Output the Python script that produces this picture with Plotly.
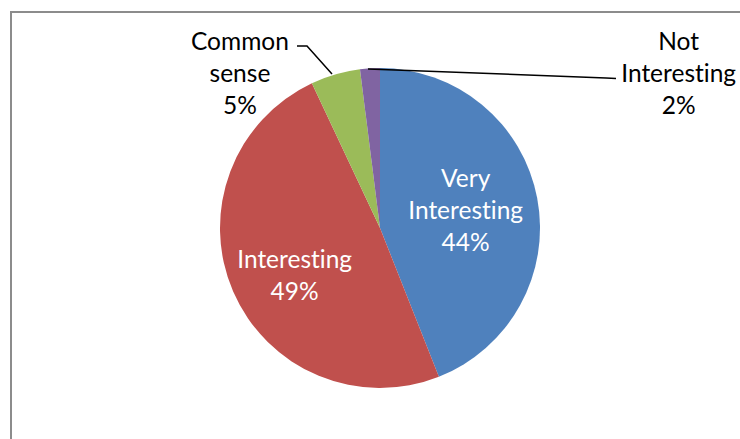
import plotly.graph_objects as go

categories = ["Very Interesting", "Interesting", "Common sense", "Not Interesting"]
values = [44, 49, 5, 2]
colors = ["#4F81BD", "#C0504D", "#9BBB59", "#8064A2"]

W, H = 740, 439
FONT = "Lato, Calibri, Carlito, sans-serif"

wrapped = [c.replace(" ", "<br>") for c in categories]
total = sum(values)
pct = [round(v * 100 / total) for v in values]

fig = go.Figure(go.Pie(
    labels=categories,
    values=values,
    sort=False,
    direction="clockwise",
    rotation=0,
    marker=dict(colors=colors, line=dict(width=0)),
    textinfo="none",
    domain=dict(x=[220 / W, 540 / W], y=[1 - 388 / H, 1 - 68 / H]),
    showlegend=False,
    hoverinfo="label+percent",
))

# label anchor positions (pixels) and colours
label_pos = [(466, 209, "white"), (295, 274, "white"),
             (240, 72, "black"), (679, 72, "black")]
for i, (px, py, col) in enumerate(label_pos):
    fig.add_annotation(
        x=px / W, y=1 - py / H, xref="paper", yref="paper",
        text=f"{wrapped[i]}<br>{pct[i]}%",
        showarrow=False, xanchor="center", yanchor="middle",
        font=dict(family=FONT, size=24.5, color=col),
    )

def line(pts):
    path = "M " + " L ".join(f"{x / W},{1 - y / H}" for x, y in pts)
    return dict(type="path", path=path, xref="paper", yref="paper",
                line=dict(color="black", width=1.5))

shapes = [
    line([(297, 46), (307, 46), (332, 74)]),
    line([(368, 69), (606, 78), (616, 78.5)]),
    dict(type="rect", xref="paper", yref="paper",
         x0=11 / W, y0=-0.1, x1=1.1, y1=1 - 12 / H,
         line=dict(color="#8C8C8C", width=2)),
]

fig.update_layout(
    width=W, height=H,
    margin=dict(l=0, r=0, t=0, b=0),
    paper_bgcolor="white", plot_bgcolor="white",
    shapes=shapes,
)

post = """
document.body.style.margin = '0';
document.body.style.overflow = 'hidden';
var st = document.createElement('style');
st.textContent = 'text { font-variant-ligatures: none !important; font-feature-settings: "liga" 0, "clig" 0 !important; }';
document.head.appendChild(st);
"""
fig.write_html("out.html", post_script=post, config={"displayModeBar": False})
